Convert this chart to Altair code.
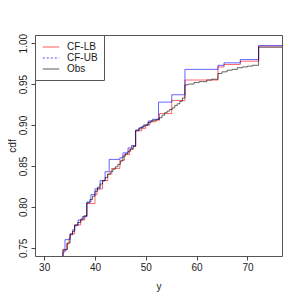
import altair as alt
import pandas as pd

series_names = ["CF-LB", "CF-UB", "Obs"]
series_colors = ["#ff0000", "#0000ff", "#000000"]

lb_x = [33.0, 33.7, 34.4, 34.9, 35.1, 36.0, 37.2, 38.0, 38.4, 40.0, 40.4, 41.5, 42.5, 43.3, 44.9,
        45.8, 46.8, 47.5, 48.0, 49.2, 50.0, 50.8, 52.0, 52.7, 55.1, 57.7, 64.2, 65.4, 68.6, 72.2, 78.0]
lb_y = [0.735, 0.747, 0.755, 0.762, 0.767, 0.778, 0.784, 0.789, 0.804, 0.815, 0.822, 0.832, 0.840, 0.847, 0.857,
        0.864, 0.870, 0.874, 0.893, 0.896, 0.900, 0.904, 0.906, 0.914, 0.930, 0.955, 0.971, 0.974, 0.978, 0.9965, 0.9965]

ub_x = [33.0, 33.7, 34.1, 35.1, 35.6, 36.0, 36.7, 37.5, 38.4, 39.2, 40.0, 41.0, 42.0, 42.8, 44.9,
        45.5, 46.5, 47.2, 48.0, 48.8, 49.5, 50.5, 51.3, 52.5, 55.1, 57.7, 64.2, 65.4, 68.6, 72.2, 78.0]
ub_y = [0.735, 0.745, 0.760, 0.767, 0.772, 0.778, 0.784, 0.788, 0.806, 0.815, 0.822, 0.832, 0.843, 0.858, 0.860,
        0.866, 0.872, 0.875, 0.894, 0.897, 0.900, 0.905, 0.907, 0.928, 0.937, 0.968, 0.973, 0.976, 0.980, 0.997, 0.997]

obs_x = [33.0, 33.7, 34.6, 35.1, 35.6, 36.0, 36.6, 37.2, 37.8, 38.4, 39.0, 39.5, 40.0, 40.5, 41.0,
         41.5, 42.0, 42.5, 43.0, 43.5, 44.0, 44.5, 45.0, 45.5, 46.0, 46.5, 47.0, 47.5, 48.0, 48.6,
         49.2, 49.8, 50.4, 51.0, 51.6, 52.2, 52.7, 53.2, 53.7, 54.2, 54.7, 55.2, 55.7, 56.2, 56.7,
         57.2, 57.7, 58.3, 59.5, 60.5, 62.0, 63.0, 64.2, 65.0, 66.0, 67.0, 68.0, 69.0, 70.0, 71.0,
         72.2, 78.0]
obs_y = [0.735, 0.748, 0.756, 0.766, 0.770, 0.777, 0.781, 0.785, 0.789, 0.805, 0.809, 0.813, 0.819, 0.824, 0.828,
         0.832, 0.836, 0.840, 0.843, 0.846, 0.849, 0.852, 0.856, 0.862, 0.865, 0.868, 0.871, 0.874, 0.893, 0.896,
         0.898, 0.900, 0.903, 0.905, 0.906, 0.907, 0.909, 0.912, 0.915, 0.917, 0.919, 0.921, 0.924, 0.926, 0.929,
         0.933, 0.949, 0.950, 0.952, 0.953, 0.955, 0.956, 0.963, 0.965, 0.967, 0.968, 0.970, 0.971, 0.972, 0.973,
         0.995, 0.995]

x_ticks = [30, 40, 50, 60, 70]
y_ticks = [0.75, 0.80, 0.85, 0.90, 0.95, 1.00]

rows = []
for name, xs, ys in [("CF-LB", lb_x, lb_y), ("CF-UB", ub_x, ub_y), ("Obs", obs_x, obs_y)]:
    for i, (xv, yv) in enumerate(zip(xs, ys)):
        rows.append({"s": name, "x": xv, "y": yv, "i": i})
df = pd.DataFrame(rows)

font = "Liberation Sans"

xenc = alt.X("x:Q", scale=alt.Scale(domain=[28.2, 76.8], nice=False, zero=False),
             axis=alt.Axis(values=x_ticks, title="y", titleX=123.5, titleY=30,
                           titleBaseline="middle", labelPadding=2, format="d"))
yenc = alt.Y("y:Q", scale=alt.Scale(domain=[0.74, 1.01], nice=False, zero=False),
             axis=alt.Axis(values=y_ticks, title="cdf", format=".2f", labelAngle=270,
                           labelAlign="center", labelBaseline="bottom", labelPadding=3,
                           titleAngle=270, titleX=-23, titleY=110.5, titleBaseline="middle",
                           titleAlign="center"))

color = alt.Color("s:N", scale=alt.Scale(domain=series_names, range=series_colors),
                  legend=alt.Legend(title=None))

lines = alt.Chart(df).mark_line(interpolate="step-after", strokeWidth=1, clip=True,
                                strokeOpacity=0.6).encode(
    x=xenc, y=yenc, color=color, order=alt.Order("i:Q"))

legend_layer = alt.Chart(df).transform_filter("false").mark_line(strokeWidth=1, clip=True).encode(
    x=alt.X("x:Q"), y=alt.Y("y:Q"), color=color,
    strokeDash=alt.StrokeDash("s:N", scale=alt.Scale(domain=series_names,
                                                      range=[[1, 0], [2, 2], [1, 0]]),
                              legend=alt.Legend(title=None)))

chart = alt.layer(lines, legend_layer).properties(
    width=247, height=221,
    autosize=alt.AutoSizeParams(type="none"),
    padding={"left": 27, "top": 27, "right": 10, "bottom": 36},
).configure_view(stroke="#555", strokeWidth=1).configure_axis(
    domain=False, grid=False, tickColor="#444", tickSize=4,
    labelFont=font, labelFontSize=10, labelColor="#222",
    titleFont=font, titleFontSize=10, titleFontWeight="normal", titleColor="#222",
).configure_legend(
    orient="top-left", offset=0, padding=6, strokeColor="#555", fillColor="white",
    labelFont=font, labelFontSize=10, labelColor="#222", symbolType="M-1.5,0H1.5",
    symbolStrokeWidth=1, symbolSize=120, symbolOpacity=0.7, rowPadding=0, labelOffset=10,
    symbolOffset=4, cornerRadius=0,
)

chart.save("out.html", embed_options={"renderer": "svg", "actions": False})
